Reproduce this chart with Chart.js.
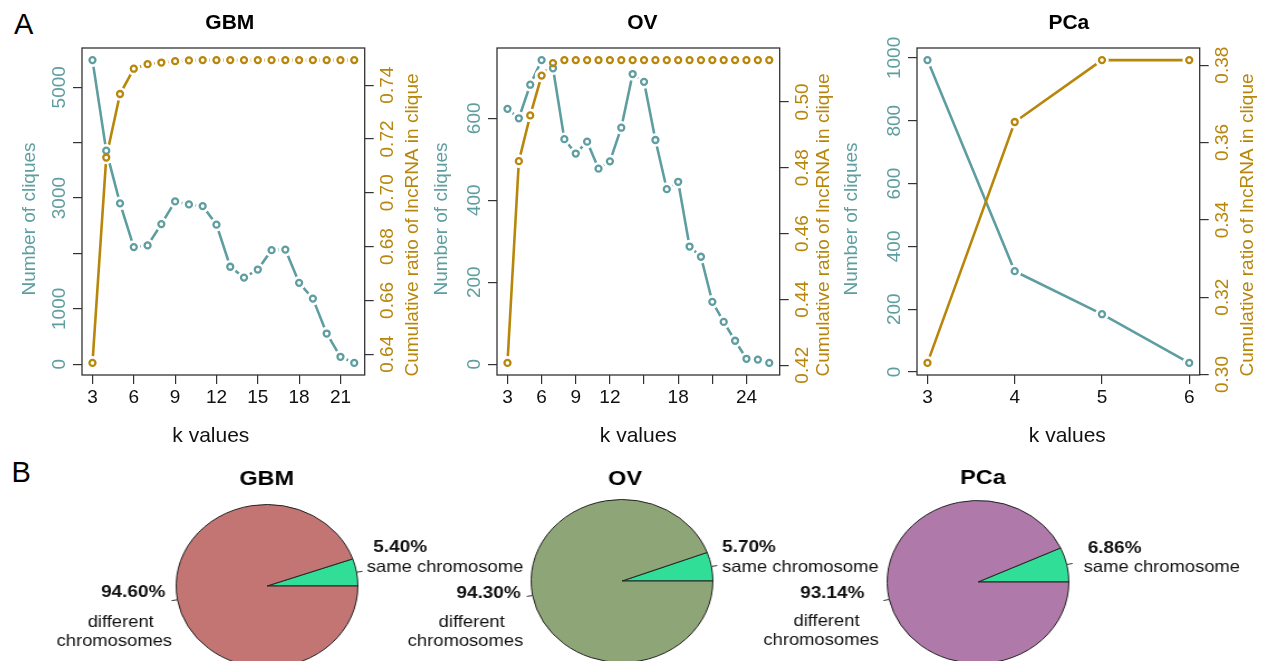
<!DOCTYPE html>
<html><head><meta charset="utf-8">
<script src="https://cdn.jsdelivr.net/npm/chart.js@4.4.0/dist/chart.umd.min.js"></script>
<style>
html,body{margin:0;padding:0;background:#fff;overflow:hidden;width:1265px;height:661px;position:relative;}
canvas{position:absolute;}
.letter{position:absolute;font-family:"Liberation Sans",Arial,sans-serif;font-size:29px;line-height:29px;color:#000;}
.pw{position:absolute;width:480px;height:240px;}
</style></head><body>
<div class="letter" style="left:14px;top:9.5px">A</div>
<div class="letter" style="left:11.5px;top:457.8px">B</div>
<script>
// ---------- DATA ----------
const gbmK = [3,4,5,6,7,8,9,10,11,12,13,14,15,16,17,18,19,20,21,22];
const gbmCliques = [5490,3855,2905,2115,2145,2530,2940,2885,2855,2520,1760,1565,1710,2060,2070,1470,1185,555,135,25];
const gbmRatio = [0.6368,0.7131,0.7367,0.7461,0.7478,0.7484,0.7489,0.7492,0.7493,0.7493,0.7493,0.7493,0.7493,0.7493,0.7493,0.7493,0.7493,0.7493,0.7493,0.7493];

const ovK = [3,4,5,6,7,8,9,10,11,12,13,14,15,16,17,18,19,20,21,22,23,24,25,26];
const ovCliques = [623,600,682,742,722,549,514,543,477,495,577,708,689,547,427,445,287,262,152,103,57,13,11,3];
const ovRatio = [0.4207,0.4820,0.4959,0.5080,0.5118,0.5127,0.5127,0.5127,0.5127,0.5127,0.5127,0.5127,0.5127,0.5127,0.5127,0.5127,0.5127,0.5127,0.5127,0.5127,0.5127,0.5127,0.5127,0.5127];

const pcaK = [3,4,5,6];
const pcaCliques = [993,321,184,29];
const pcaRatio = [0.3030,0.3653,0.3813,0.3813];

const gbmXTicks = [3,6,9,12,15,18,21];
const gbmXLabels = ['3','6','9','12','15','18','21'];
const ovXTicks = [3,6,9,12,15,18,21,24];
const ovXLabels = ['3','6','9','12','','18','','24'];
const pcaXTicks = [3,4,5,6];
const pcaXLabels = ['3','4','5','6'];

const gbmYTicks = [0,1000,2000,3000,4000,5000];
const gbmYLabels = ['0','1000','','3000','','5000'];
const gbmY2Ticks = [0.64,0.66,0.68,0.70,0.72,0.74];
const gbmY2Labels = ['0.64','0.66','0.68','0.70','0.72','0.74'];
const ovYTicks = [0,200,400,600];
const ovYLabels = ['0','200','400','600'];
const ovY2Ticks = [0.42,0.44,0.46,0.48,0.50];
const ovY2Labels = ['0.42','0.44','0.46','0.48','0.50'];
const pcaYTicks = [0,200,400,600,800,1000];
const pcaYLabels = ['0','200','400','600','800','1000'];
const pcaY2Ticks = [0.30,0.32,0.34,0.36,0.38];
const pcaY2Labels = ['0.30','0.32','0.34','0.36','0.38'];

const pieNames = ['GBM','OV','PCa'];
const sameChrom = [5.40,5.70,6.86];
const diffChrom = [94.60,94.30,93.14];
const sliceLabels = ['same chromosome','different chromosomes'];

// ---------- STYLE / LAYOUT ----------
const FONT = '"Liberation Sans", Arial, Helvetica, sans-serif';
const TEAL = '#5F9EA0', GOLD = '#B8860B';

function rotText(ctx, s, x, y){
  ctx.save(); ctx.translate(x, y); ctx.rotate(-Math.PI/2);
  ctx.textAlign = 'center'; ctx.textBaseline = 'alphabetic';
  ctx.fillText(s, 0, 0); ctx.restore();
}
function pad4(arr){
  const mn = Math.min(...arr), mx = Math.max(...arr), p = (mx - mn) * 0.04;
  return [mn - p, mx + p];
}

function lineChart(p){
  const LEFTW = 90, RIGHTW = 70.3, W = 443, H = 450, TOP = 48, XH = 75;
  const cv = document.createElement('canvas');
  cv.width = W; cv.height = H;
  cv.style.left = (p.boxLeft - LEFTW) + 'px'; cv.style.top = '0px';
  cv.style.width = W + 'px'; cv.style.height = H + 'px';
  document.body.appendChild(cv);
  const [xmin, xmax] = pad4(p.k), [ymin, ymax] = pad4(p.cliques), [y2min, y2max] = pad4(p.ratio);
  const pts = ys => p.k.map((k, i) => ({x: k, y: ys[i]}));
  const grid = {drawOnChartArea: false, drawTicks: true, tickLength: 9, color: '#333', lineWidth: 1.2};
  const setTicks = vals => s => { s.ticks = vals.map(v => ({value: v})); };
  const decor = {
    id: 'decor',
    afterDraw(chart){
      const {ctx, chartArea: a, scales} = chart;
      ctx.save();
      ctx.strokeStyle = '#333'; ctx.lineWidth = 1.3;
      ctx.strokeRect(a.left, a.top, a.right - a.left, a.bottom - a.top);
      ctx.font = '19px ' + FONT; ctx.fillStyle = '#111';
      ctx.textAlign = 'center'; ctx.textBaseline = 'alphabetic';
      scales.x.ticks.forEach(t => {
        const lab = p.xLabels[p.xTicks.indexOf(t.value)];
        if (lab) ctx.fillText(lab, scales.x.getPixelForValue(t.value), a.bottom + 28.3);
      });
      ctx.fillStyle = TEAL;
      scales.y.ticks.forEach(t => {
        const lab = p.yLabels[p.yTicks.indexOf(t.value)];
        if (lab) rotText(ctx, lab, a.left - 17.5, scales.y.getPixelForValue(t.value));
      });
      ctx.fillStyle = GOLD;
      scales.y2.ticks.forEach(t => {
        const lab = p.y2Labels[p.y2Ticks.indexOf(t.value)];
        if (lab) rotText(ctx, lab, a.right + 28, scales.y2.getPixelForValue(t.value));
      });
      const cx = (a.left + a.right) / 2, cy = (a.top + a.bottom) / 2;
      ctx.fillStyle = TEAL; ctx.font = '19px ' + FONT;
      rotText(ctx, 'Number of cliques', a.left - p.ylabOff, cy + 7.5);
      ctx.fillStyle = GOLD;
      rotText(ctx, 'Cumulative ratio of lncRNA in clique', a.right + p.y2labOff, cy + 13.5);
      ctx.fillStyle = '#111'; ctx.font = '21px ' + FONT; ctx.textAlign = 'center';
      ctx.fillText('k values', cx + p.xlabDx, a.bottom + 67);
      ctx.fillStyle = '#000'; ctx.font = 'bold 21px ' + FONT;
      ctx.fillText(p.title, cx + p.titleDx, a.top - 18.7);
      ctx.restore();
    }
  };
  new Chart(cv, {
    type: 'line',
    data: {datasets: [
      {data: pts(p.cliques), yAxisID: 'y', borderColor: TEAL, borderWidth: 2.6, pointRadius: 0, tension: 0, fill: false, order: 6},
      {data: pts(p.ratio), yAxisID: 'y2', borderColor: GOLD, borderWidth: 2.6, pointRadius: 0, tension: 0, fill: false, order: 5},
      {data: pts(p.cliques), yAxisID: 'y', showLine: false, pointRadius: 6.8, pointBackgroundColor: '#fff', pointBorderWidth: 0, pointBorderColor: '#fff', order: 4},
      {data: pts(p.ratio), yAxisID: 'y2', showLine: false, pointRadius: 6.8, pointBackgroundColor: '#fff', pointBorderWidth: 0, pointBorderColor: '#fff', order: 3},
      {data: pts(p.cliques), yAxisID: 'y', showLine: false, pointRadius: 3, pointBorderWidth: 2.3, pointBorderColor: TEAL, pointBackgroundColor: 'rgba(0,0,0,0)', order: 2},
      {data: pts(p.ratio), yAxisID: 'y2', showLine: false, pointRadius: 3, pointBorderWidth: 2.3, pointBorderColor: GOLD, pointBackgroundColor: 'rgba(0,0,0,0)', order: 1}
    ]},
    options: {
      responsive: false, animation: false, devicePixelRatio: 1, events: [],
      layout: {padding: {top: TOP, left: 0, right: 0, bottom: 0}},
      plugins: {legend: {display: false}, tooltip: {enabled: false}, title: {display: false}},
      scales: {
        x: {type: 'linear', position: 'bottom', min: xmin, max: xmax, bounds: 'data',
            afterBuildTicks: setTicks(p.xTicks), afterFit: s => { s.height = XH; },
            grid: grid, border: {display: false}, ticks: {display: false}},
        y: {type: 'linear', position: 'left', min: ymin, max: ymax, bounds: 'data',
            afterBuildTicks: setTicks(p.yTicks), afterFit: s => { s.width = LEFTW; },
            grid: grid, border: {display: false}, ticks: {display: false}},
        y2: {type: 'linear', position: 'right', min: y2min, max: y2max, bounds: 'data',
            afterBuildTicks: setTicks(p.y2Ticks), afterFit: s => { s.width = RIGHTW; },
            grid: grid, border: {display: false}, ticks: {display: false}}
      }
    },
    plugins: [decor]
  });
}

lineChart({title: 'GBM', boxLeft: 82.3, k: gbmK, cliques: gbmCliques, ratio: gbmRatio,
  xTicks: gbmXTicks, xLabels: gbmXLabels, yTicks: gbmYTicks, yLabels: gbmYLabels, y2Ticks: gbmY2Ticks, y2Labels: gbmY2Labels,
  titleDx: 6.5, xlabDx: -12.5, ylabOff: 46.7, y2labOff: 53.6});
lineChart({title: 'OV', boxLeft: 496.7, k: ovK, cliques: ovCliques, ratio: ovRatio,
  xTicks: ovXTicks, xLabels: ovXLabels, yTicks: ovYTicks, yLabels: ovYLabels, y2Ticks: ovY2Ticks, y2Labels: ovY2Labels,
  titleDx: 4, xlabDx: 0, ylabOff: 49.8, y2labOff: 49.6});
lineChart({title: 'PCa', boxLeft: 917.3, k: pcaK, cliques: pcaCliques, ratio: pcaRatio,
  xTicks: pcaXTicks, xLabels: pcaXLabels, yTicks: pcaYTicks, yLabels: pcaYLabels, y2Ticks: pcaY2Ticks, y2Labels: pcaY2Labels,
  titleDx: 10.5, xlabDx: 9, ylabOff: 60.3, y2labOff: 53.6});

// ---------- PIES ----------
const SX = 1.115;
const pieCenters = [[266.7, 585.7], [621.7, 580.7], [978.3, 582.3]];
const pieFill = ['#C37574', '#8EA677', '#AF79A9'];
const GREEN = '#31DE97';
const pieTitleX = [-0.4, 3.1, 5];
const pieLabelLayout = [
  {pctSame: [106.3, -38.2], same: [99.8, -18.7], pctDiff: [-101.7, 6.8], diff1: [-146.3, 36], diff2: [-152.7, 55]},
  {pctSame: [100.1, -33.4], same: [100.1, -14], pctDiff: [-101.3, 12.6], diff1: [-150.3, 41], diff2: [-156.5, 60]},
  {pctSame: [109.7, -34], same: [105.6, -15], pctDiff: [-113.6, 11.7], diff1: [-151.5, 39.4], diff2: [-156.9, 58.4]}
];

pieNames.forEach((name, i) => {
  const [scx, scy] = pieCenters[i];
  const CW = 480, CH = 240, PCX = 210, PCY = 135, HALF = 82;
  const wrap = document.createElement('div');
  wrap.className = 'pw';
  wrap.style.left = (scx - PCX) + 'px';
  wrap.style.top = (scy - PCY) + 'px';
  wrap.style.transform = 'scaleX(' + SX + ')';
  wrap.style.transformOrigin = PCX + 'px ' + PCY + 'px';
  document.body.appendChild(wrap);
  const cv = document.createElement('canvas');
  cv.width = CW; cv.height = CH;
  cv.style.left = '0px'; cv.style.top = '0px'; cv.style.width = CW + 'px'; cv.style.height = CH + 'px';
  wrap.appendChild(cv);
  const L = pieLabelLayout[i];
  const at = (d) => [PCX + d[0] / SX, PCY + d[1]];
  const decor = {
    id: 'pieDecor',
    afterDraw(chart){
      const ctx = chart.ctx;
      ctx.save();
      ctx.fillStyle = '#000'; ctx.font = 'bold 21px ' + FONT;
      ctx.textAlign = 'center'; ctx.textBaseline = 'middle';
      ctx.fillText(name, PCX + pieTitleX[i] / SX, 479 - (scy - PCY));
      ctx.strokeStyle = '#333'; ctx.lineWidth = 1;
      chart.getDatasetMeta(0).data.forEach(arc => {
        const m = (arc.startAngle + arc.endAngle) / 2, r = arc.outerRadius;
        ctx.beginPath();
        ctx.moveTo(arc.x + Math.cos(m) * r * 1.0, arc.y + Math.sin(m) * r * 1.0);
        ctx.lineTo(arc.x + Math.cos(m) * r * 1.065, arc.y + Math.sin(m) * r * 1.065);
        ctx.stroke();
      });
      ctx.fillStyle = '#111';
      ctx.font = 'bold 17px ' + FONT; ctx.textAlign = 'left';
      let q = at(L.pctSame); ctx.fillText(sameChrom[i].toFixed(2) + '%', q[0], q[1]);
      ctx.font = '16.5px ' + FONT;
      q = at(L.same); ctx.fillText(sliceLabels[0], q[0], q[1]);
      ctx.font = 'bold 17px ' + FONT; ctx.textAlign = 'right';
      q = at(L.pctDiff); ctx.fillText(diffChrom[i].toFixed(2) + '%', q[0], q[1]);
      ctx.font = '16.5px ' + FONT; ctx.textAlign = 'center';
      const parts = sliceLabels[1].split(' ');
      q = at(L.diff1); ctx.fillText(parts[0], q[0], q[1]);
      q = at(L.diff2); ctx.fillText(parts[1], q[0], q[1]);
      ctx.restore();
    }
  };
  new Chart(cv, {
    type: 'pie',
    data: {labels: sliceLabels, datasets: [{
      data: [sameChrom[i], diffChrom[i]],
      backgroundColor: [GREEN, pieFill[i]],
      borderColor: '#222', borderWidth: 1
    }]},
    options: {
      responsive: false, animation: false, devicePixelRatio: 1, events: [],
      rotation: 90 - sameChrom[i] * 3.6,
      layout: {padding: {left: PCX - HALF, right: CW - PCX - HALF, top: PCY - HALF, bottom: CH - PCY - HALF}},
      plugins: {legend: {display: false}, tooltip: {enabled: false}, title: {display: false}}
    },
    plugins: [decor]
  });
});
</script>
</body></html>
